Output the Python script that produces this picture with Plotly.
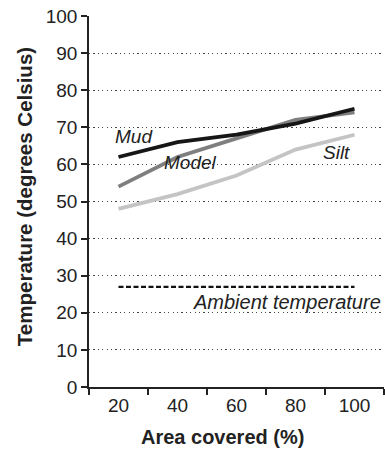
import plotly.graph_objects as go

areas = ["20", "40", "60", "80", "100"]
mud = [62, 66, 68, 71, 75]
model = [54, 62, 67, 72, 74]
silt = [48, 52, 57, 64, 68]
ambient = [27, 27, 27, 27, 27]
y_ticks = [0, 10, 20, 30, 40, 50, 60, 70, 80, 90, 100]

fig = go.Figure()
fig.add_trace(go.Scatter(x=areas, y=ambient, mode="lines",
                         line=dict(color="#111111", width=2.2, dash="5px,2.5px")))
fig.add_trace(go.Scatter(x=areas, y=silt, mode="lines",
                         line=dict(color="#c4c4c4", width=3.8)))
fig.add_trace(go.Scatter(x=areas, y=model, mode="lines",
                         line=dict(color="#7f7f7f", width=3.8)))
fig.add_trace(go.Scatter(x=areas, y=mud, mode="lines",
                         line=dict(color="#161616", width=3.8)))

lab_font = dict(family="Liberation Sans, Arial", size=19, color="#222222")
for txt, x, y, sz in [("<i>Mud</i>", 0.26, 67.4, 19), ("<i>Model</i>", 1.22, 60.6, 19),
                      ("<i>Silt</i>", 3.7, 63.2, 19),
                      ("<i>Ambient temperature</i>", 2.85, 23.0, 20)]:
    fig.add_annotation(x=x, y=y, xref="x", yref="y", text=txt, showarrow=False,
                       font=dict(lab_font, size=sz), xanchor="center", yanchor="middle")

# axis titles
fig.add_annotation(x=0.454, y=-0.135, xref="paper", yref="paper",
                   text="<b>Area covered (%)</b>", showarrow=False,
                   font=dict(family="Liberation Sans, Arial", size=20, color="#222222"),
                   xanchor="center", yanchor="middle")
fig.add_annotation(x=-0.22, y=0.512, xref="paper", yref="paper",
                   text="<b>Temperature (degrees Celsius)</b>", showarrow=False, textangle=-90,
                   font=dict(family="Liberation Sans, Arial", size=20.5, color="#222222"),
                   xanchor="center", yanchor="middle")

fig.update_layout(
    width=385, height=450,
    margin=dict(l=89, r=1, t=16, b=63),
    plot_bgcolor="white", paper_bgcolor="white",
    showlegend=False,
    font=dict(family="Liberation Sans, Arial", size=19, color="#222222"),
)
fig.update_xaxes(
    type="category", range=[-0.5, 4.5], tickson="boundaries",
    ticks="outside", ticklen=6, tickcolor="#222222", tickwidth=1.5,
    showline=True, linecolor="#222222", linewidth=1.5,
    showgrid=False, zeroline=False, automargin=False,
    tickfont=dict(size=19),
)
fig.update_yaxes(
    range=[0, 100], tickvals=y_ticks, ticktext=[str(v) for v in y_ticks],
    ticks="outside", ticklen=6, tickcolor="#222222", tickwidth=1.5,
    showline=True, linecolor="#222222", linewidth=1.5,
    showgrid=True, gridcolor="#444444", gridwidth=1.2, griddash="1.2px,3.2px",
    zeroline=False, automargin=False, tickfont=dict(size=19),
)
fig.write_html("out.html")
